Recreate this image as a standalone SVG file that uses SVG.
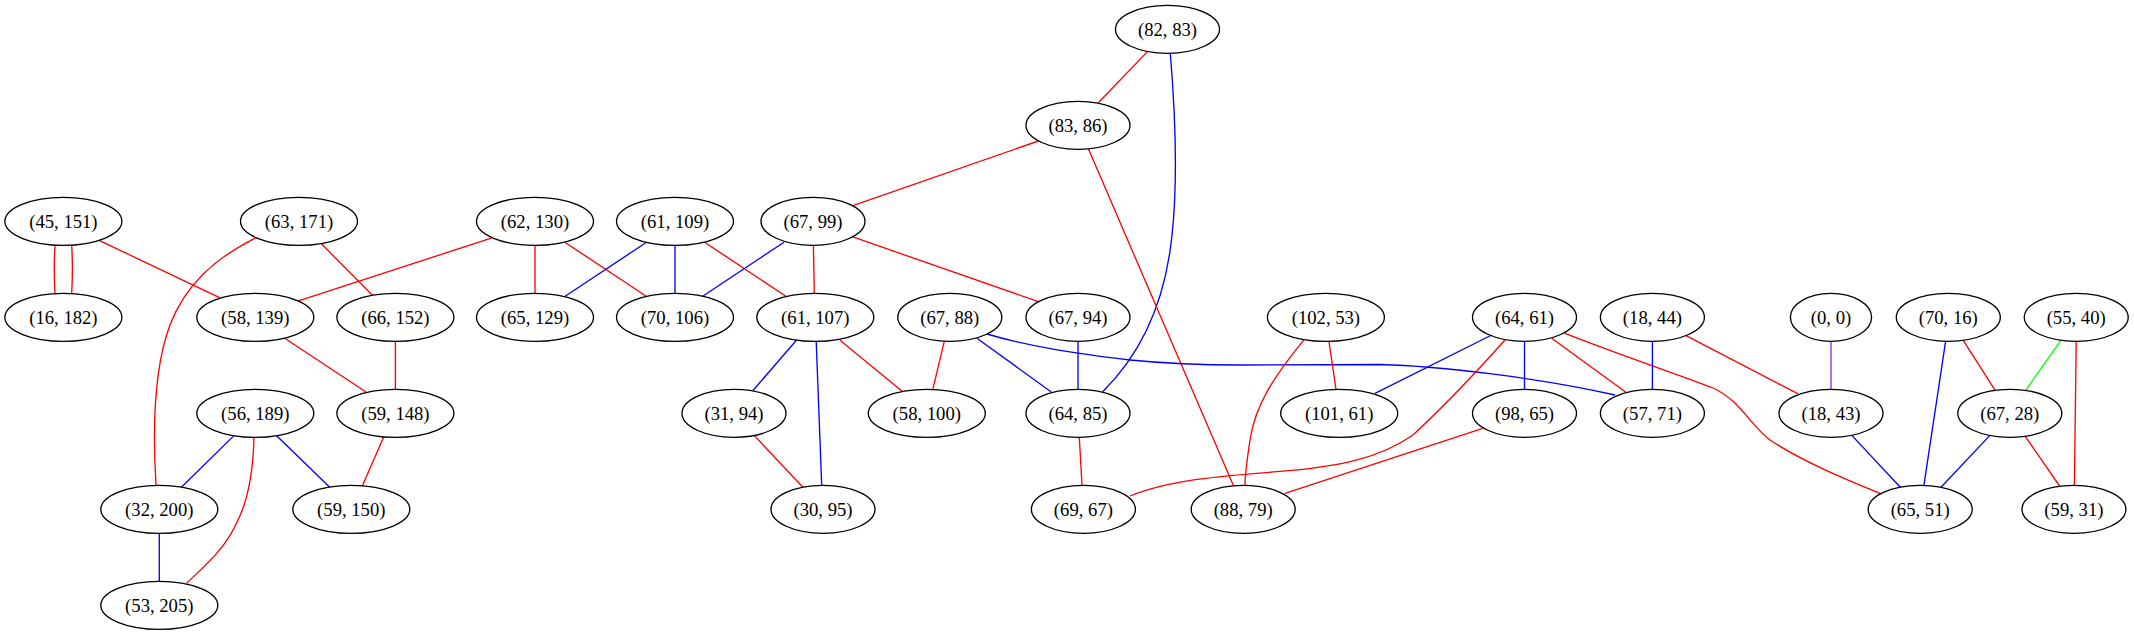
<svg xmlns="http://www.w3.org/2000/svg" width="2134" height="635" viewBox="0 0 2134 635">
<style>
.nd ellipse{fill:none;stroke:#000000;stroke-width:1.33}
.nd text{font-family:"Liberation Serif","Times New Roman",serif;font-size:18.67px;text-anchor:middle;fill:#000000}
#edges path{fill:none;stroke-width:1.33}
.r{stroke:#ff0000}
.b{stroke:#0000ff}
.p{stroke:#a020f0}
.g{stroke:#00ff00}
</style>
<rect x="0" y="0" width="2134" height="635" fill="#ffffff"/>
<g id="edges">
<path class="r" d="M55,245 C54,261 54,277 55,293.3"/>
<path class="r" d="M71.7,245 C72.6,261 72.6,277 71.7,293.3"/>
<path class="r" d="M99.6,240.6 L219.5,297.7"/>
<path class="r" d="M256.7,237.3 C215,258 185,285 170,325 C155,365 152,420 156,485"/>
<path class="r" d="M321.4,243.8 L372.9,295.7"/>
<path class="r" d="M491.3,238.1 L298.5,300.9"/>
<path class="r" d="M535,245.3 L535,293.3"/>
<path class="r" d="M564.8,242.2 L646.6,296.5"/>
<path class="b" d="M646.6,242.2 L564.8,296.5"/>
<path class="b" d="M675,245.3 L675,293.3"/>
<path class="r" d="M704.6,242.2 L786.3,296.5"/>
<path class="b" d="M784,242.2 L702.3,296.5"/>
<path class="r" d="M813.4,245.3 L814.3,293.3"/>
<path class="r" d="M852.9,236.9 L1038.4,301.7"/>
<path class="r" d="M1038.4,141 L852.9,205.7"/>
<path class="r" d="M1147.7,51.4 L1098.6,102.5"/>
<path class="b" d="M1170.3,53.3 C1175,110 1178,180 1172,235 C1166,295 1145,350 1102.7,391.7"/>
<path class="r" d="M1088.5,149 L1233.3,485.3"/>
<path class="r" d="M284.7,338.2 L366,392"/>
<path class="r" d="M395.4,341.3 L395.4,389.3"/>
<path class="b" d="M234.2,435.4 L181.4,487.2"/>
<path class="b" d="M276.4,435.4 L329.7,487.2"/>
<path class="r" d="M254,437.3 C253,475 248,500 238,520 C225,550 205,565 186.7,583.3"/>
<path class="r" d="M383.9,436.6 L362.3,486"/>
<path class="b" d="M159.3,533.3 L159.3,581.3"/>
<path class="b" d="M796.4,340.2 L752.8,390.8"/>
<path class="b" d="M816.2,341.3 L821.7,485.3"/>
<path class="r" d="M840,340.2 L902.5,391.6"/>
<path class="r" d="M754.2,435.4 L802.9,487.2"/>
<path class="r" d="M944.3,341.3 L932.8,389.3"/>
<path class="b" d="M976.9,338.2 L1051.3,392"/>
<path class="b" d="M987,334 C1030,347 1080,354 1130,360 C1170,364 1200,365 1240,365 L1380,364.5 C1440,366 1540,378 1615,395"/>
<path class="b" d="M1078,341.3 L1078,389.3"/>
<path class="r" d="M1079.3,437.3 L1082,485.3"/>
<path class="r" d="M1329,341.5 L1336,389.3"/>
<path class="r" d="M1304.3,339.3 C1275,375 1255,405 1250,440 C1247,460 1245,475 1245,485.3"/>
<path class="b" d="M1491.7,335 L1375,393.3"/>
<path class="r" d="M1505,340 C1480,368 1440,410 1413,435 C1380,458 1340,467 1276.7,471.7 C1220,476 1170,480 1130,496"/>
<path class="b" d="M1524.5,341.3 L1524.5,389.3"/>
<path class="r" d="M1551.7,338.2 L1625.6,392"/>
<path class="r" d="M1565,333.3 C1620,355 1680,375 1713,388 C1740,400 1750,425 1770,440 C1800,460 1840,477 1880,493.3"/>
<path class="r" d="M1482.7,428.3 L1285,493.3"/>
<path class="b" d="M1652.4,341.3 L1652.4,389.3"/>
<path class="r" d="M1685.6,335.3 L1797.8,393.7"/>
<path class="p" d="M1831,341.3 L1831,389.3"/>
<path class="b" d="M1851.8,435.4 L1900.3,487.2"/>
<path class="b" d="M1945.6,341.3 L1923.9,485.3"/>
<path class="r" d="M1963.1,340.2 L1995.5,390.8"/>
<path class="g" d="M2061,340.2 L2025.4,390.8"/>
<path class="r" d="M2076.2,341.3 L2074.4,485.3"/>
<path class="b" d="M1989.9,435.4 L1941,487.2"/>
<path class="r" d="M2025.4,436.6 L2059.6,486"/>
</g>
<g id="n1" class="nd"><ellipse cx="1167.5" cy="29.3" rx="52" ry="24"/><text x="1167.5" y="35.5">(82, 83)</text></g>
<g id="n2" class="nd"><ellipse cx="1078" cy="125.3" rx="52" ry="24"/><text x="1078" y="131.5">(83, 86)</text></g>
<g id="n3" class="nd"><ellipse cx="63.4" cy="221.3" rx="58.5" ry="24"/><text x="63.4" y="227.5">(45, 151)</text></g>
<g id="n4" class="nd"><ellipse cx="299" cy="221.3" rx="58.5" ry="24"/><text x="299" y="227.5">(63, 171)</text></g>
<g id="n5" class="nd"><ellipse cx="535" cy="221.3" rx="58.5" ry="24"/><text x="535" y="227.5">(62, 130)</text></g>
<g id="n6" class="nd"><ellipse cx="675" cy="221.3" rx="58.5" ry="24"/><text x="675" y="227.5">(61, 109)</text></g>
<g id="n7" class="nd"><ellipse cx="813" cy="221.3" rx="52" ry="24"/><text x="813" y="227.5">(67, 99)</text></g>
<g id="n8" class="nd"><ellipse cx="63.4" cy="317.3" rx="58.5" ry="24"/><text x="63.4" y="323.5">(16, 182)</text></g>
<g id="n9" class="nd"><ellipse cx="255.3" cy="317.3" rx="58.5" ry="24"/><text x="255.3" y="323.5">(58, 139)</text></g>
<g id="n10" class="nd"><ellipse cx="395.4" cy="317.3" rx="58.5" ry="24"/><text x="395.4" y="323.5">(66, 152)</text></g>
<g id="n11" class="nd"><ellipse cx="535" cy="317.3" rx="58.5" ry="24"/><text x="535" y="323.5">(65, 129)</text></g>
<g id="n12" class="nd"><ellipse cx="675" cy="317.3" rx="58.5" ry="24"/><text x="675" y="323.5">(70, 106)</text></g>
<g id="n13" class="nd"><ellipse cx="815.3" cy="317.3" rx="58.5" ry="24"/><text x="815.3" y="323.5">(61, 107)</text></g>
<g id="n14" class="nd"><ellipse cx="949.8" cy="317.3" rx="52" ry="24"/><text x="949.8" y="323.5">(67, 88)</text></g>
<g id="n15" class="nd"><ellipse cx="1078" cy="317.3" rx="52" ry="24"/><text x="1078" y="323.5">(67, 94)</text></g>
<g id="n16" class="nd"><ellipse cx="1325.9" cy="317.3" rx="58.5" ry="24"/><text x="1325.9" y="323.5">(102, 53)</text></g>
<g id="n17" class="nd"><ellipse cx="1524.5" cy="317.3" rx="52" ry="24"/><text x="1524.5" y="323.5">(64, 61)</text></g>
<g id="n18" class="nd"><ellipse cx="1652.4" cy="317.3" rx="52" ry="24"/><text x="1652.4" y="323.5">(18, 44)</text></g>
<g id="n19" class="nd"><ellipse cx="1831" cy="317.3" rx="40.6" ry="24"/><text x="1831" y="323.5">(0, 0)</text></g>
<g id="n20" class="nd"><ellipse cx="1948.3" cy="317.3" rx="52" ry="24"/><text x="1948.3" y="323.5">(70, 16)</text></g>
<g id="n21" class="nd"><ellipse cx="2076.2" cy="317.3" rx="52" ry="24"/><text x="2076.2" y="323.5">(55, 40)</text></g>
<g id="n22" class="nd"><ellipse cx="255.3" cy="413.3" rx="58.5" ry="24"/><text x="255.3" y="419.5">(56, 189)</text></g>
<g id="n23" class="nd"><ellipse cx="395.4" cy="413.3" rx="58.5" ry="24"/><text x="395.4" y="419.5">(59, 148)</text></g>
<g id="n24" class="nd"><ellipse cx="734" cy="413.3" rx="52" ry="24"/><text x="734" y="419.5">(31, 94)</text></g>
<g id="n25" class="nd"><ellipse cx="926.8" cy="413.3" rx="58.5" ry="24"/><text x="926.8" y="419.5">(58, 100)</text></g>
<g id="n26" class="nd"><ellipse cx="1078" cy="413.3" rx="52" ry="24"/><text x="1078" y="419.5">(64, 85)</text></g>
<g id="n27" class="nd"><ellipse cx="1339.2" cy="413.3" rx="58.5" ry="24"/><text x="1339.2" y="419.5">(101, 61)</text></g>
<g id="n28" class="nd"><ellipse cx="1524.5" cy="413.3" rx="52" ry="24"/><text x="1524.5" y="419.5">(98, 65)</text></g>
<g id="n29" class="nd"><ellipse cx="1652.4" cy="413.3" rx="52" ry="24"/><text x="1652.4" y="419.5">(57, 71)</text></g>
<g id="n30" class="nd"><ellipse cx="1831" cy="413.3" rx="52" ry="24"/><text x="1831" y="419.5">(18, 43)</text></g>
<g id="n31" class="nd"><ellipse cx="2009.8" cy="413.3" rx="52" ry="24"/><text x="2009.8" y="419.5">(67, 28)</text></g>
<g id="n32" class="nd"><ellipse cx="159.3" cy="509.3" rx="58.5" ry="24"/><text x="159.3" y="515.5">(32, 200)</text></g>
<g id="n33" class="nd"><ellipse cx="351.3" cy="509.3" rx="58.5" ry="24"/><text x="351.3" y="515.5">(59, 150)</text></g>
<g id="n34" class="nd"><ellipse cx="823" cy="509.3" rx="52" ry="24"/><text x="823" y="515.5">(30, 95)</text></g>
<g id="n35" class="nd"><ellipse cx="1083.4" cy="509.3" rx="52" ry="24"/><text x="1083.4" y="515.5">(69, 67)</text></g>
<g id="n36" class="nd"><ellipse cx="1243.2" cy="509.3" rx="52" ry="24"/><text x="1243.2" y="515.5">(88, 79)</text></g>
<g id="n37" class="nd"><ellipse cx="1920.2" cy="509.3" rx="52" ry="24"/><text x="1920.2" y="515.5">(65, 51)</text></g>
<g id="n38" class="nd"><ellipse cx="2073.9" cy="509.3" rx="52" ry="24"/><text x="2073.9" y="515.5">(59, 31)</text></g>
<g id="n39" class="nd"><ellipse cx="159.3" cy="605.3" rx="58.5" ry="24"/><text x="159.3" y="611.5">(53, 205)</text></g>
</svg>
